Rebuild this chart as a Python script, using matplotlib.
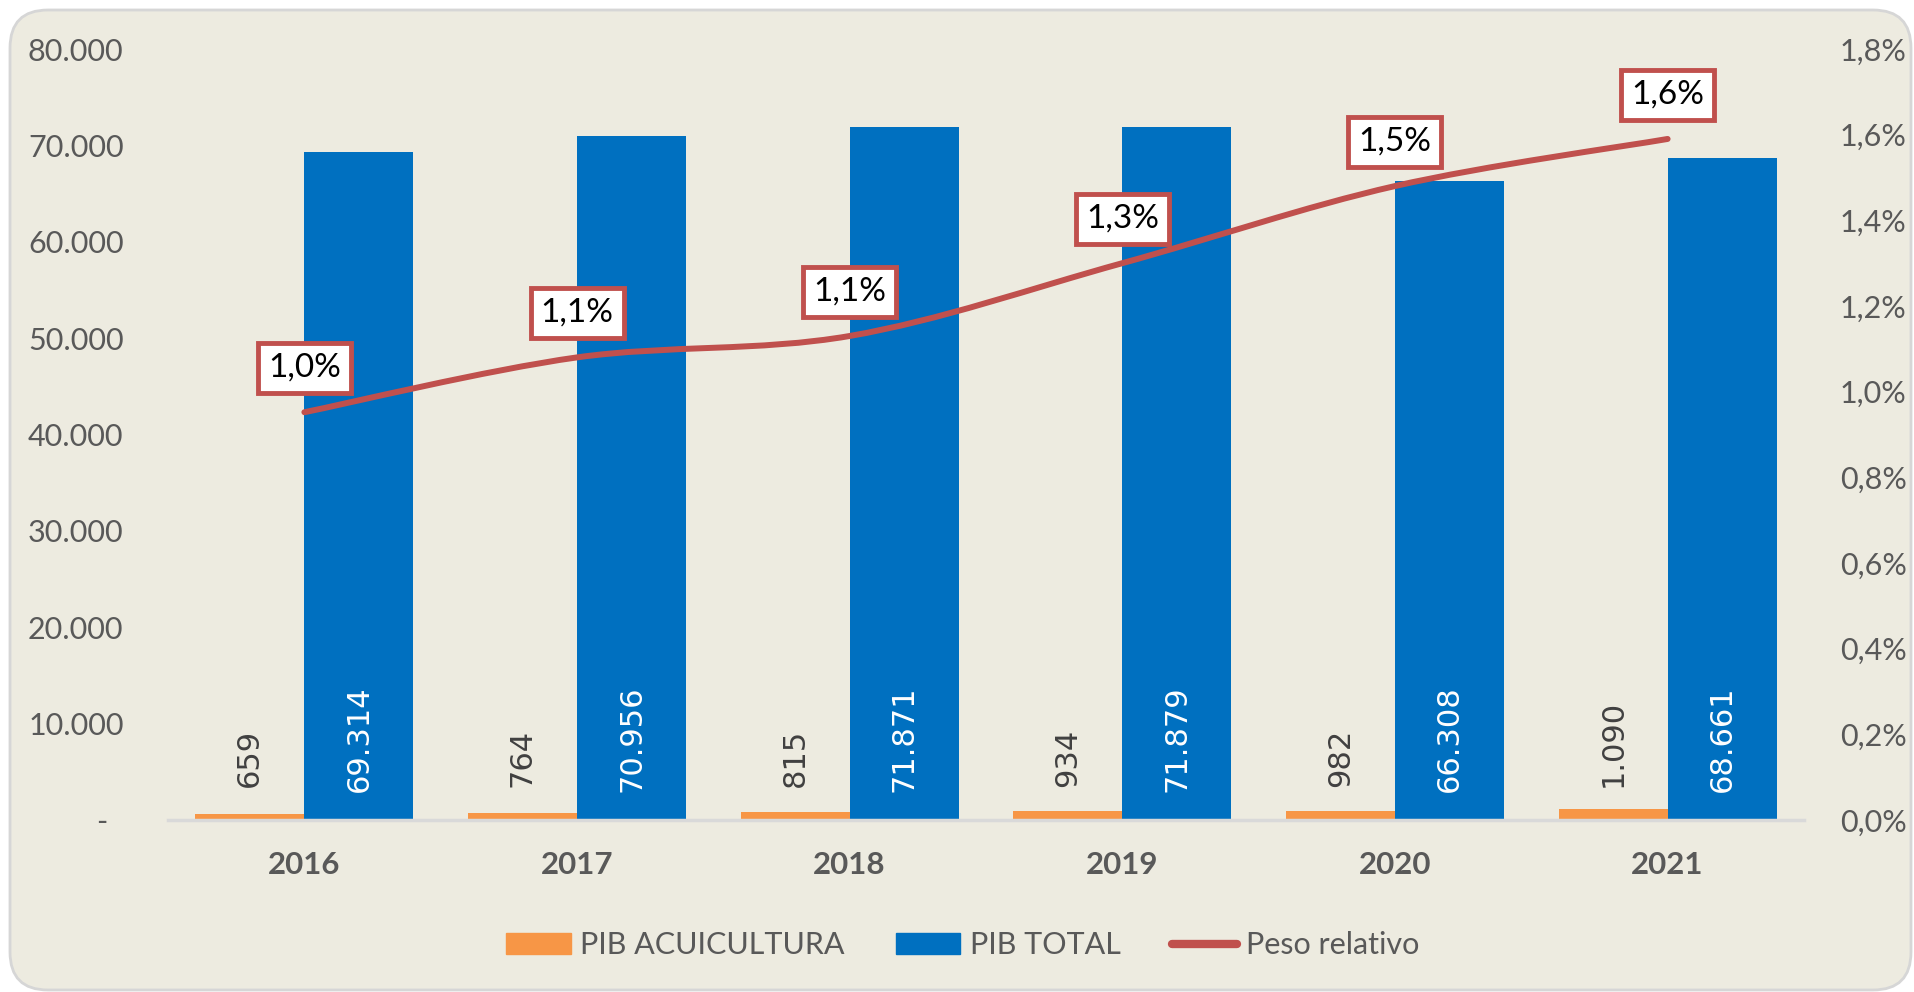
import matplotlib.pyplot as plt
from matplotlib.patches import FancyBboxPatch, Patch, PathPatch
from matplotlib.lines import Line2D
from matplotlib.path import Path

# data
years = ['2016', '2017', '2018', '2019', '2020', '2021']
pib_acuicultura = [659, 764, 815, 934, 982, 1090]
pib_total = [69314, 70956, 71871, 71879, 66308, 68661]
peso_relativo = [0.00952, 0.0108, 0.0113, 0.0130, 0.0148, 0.0159]
left_ticks = [0, 10000, 20000, 30000, 40000, 50000, 60000, 70000, 80000]
right_ticks = [0, 0.002, 0.004, 0.006, 0.008, 0.010, 0.012, 0.014, 0.016, 0.018]

orange = '#F79646'
blue = '#0070C0'
red = '#C0504D'
grey = '#595959'
bg = '#EDEBE0'

plt.rcParams['font.family'] = ['Lato', 'DejaVu Sans']


def miles(v):
    return f"{v:,}".replace(',', '.')


def pct(v):
    return f"{v * 100:.1f}%".replace('.', ',')


def smooth_path(xs, ys):
    # bezier curve through the points, like excel's smoothed line
    pts = list(zip(xs, ys))
    n = len(pts)
    verts, codes = [pts[0]], [Path.MOVETO]
    for i in range(n - 1):
        p0, p1 = pts[max(i - 1, 0)], pts[i]
        p2, p3 = pts[i + 1], pts[min(i + 2, n - 1)]
        c1 = (p1[0] + (p2[0] - p0[0]) / 6, p1[1] + (p2[1] - p0[1]) / 6)
        c2 = (p2[0] - (p3[0] - p1[0]) / 6, p2[1] - (p3[1] - p1[1]) / 6)
        verts += [c1, c2, p2]
        codes += [Path.CURVE4] * 3
    return Path(verts, codes)


fig = plt.figure(figsize=(19.14, 9.92), dpi=100)
fig.patch.set_facecolor('white')
back = FancyBboxPatch((0.10, 0.02), 19.01, 9.80, boxstyle='round,pad=0,rounding_size=0.38',
                      transform=fig.dpi_scale_trans, fc=bg, ec='#D6D6D6', lw=2, zorder=-5)
fig.patches.append(back)

ax = fig.add_axes([0.0878, 0.1734, 0.8547, 0.7772])
ax.set_facecolor('none')
x = list(range(len(years)))
w = 0.4
ax.bar([i - w / 2 for i in x], pib_acuicultura, w, color=orange, zorder=2)
ax.bar([i + w / 2 for i in x], pib_total, w, color=blue, zorder=2)

for i in x:
    ax.annotate(miles(pib_acuicultura[i]), (i - w / 2, 0), xytext=(0, 24), textcoords='offset points',
                rotation=90, ha='center', va='bottom', fontsize=22, family='DejaVu Sans', color='#404040')
    ax.annotate(miles(pib_total[i]), (i + w / 2, 0), xytext=(0, 20), textcoords='offset points',
                rotation=90, ha='center', va='bottom', fontsize=22, family='DejaVu Sans', color='white')

ax.set_xlim(-0.5, 5.5)
ax.set_ylim(0, 80000)
ax.set_xticks(x)
ax.set_xticklabels(years, fontsize=22.5, fontweight='bold', color=grey)
ax.set_yticks(left_ticks)
ax.set_yticklabels(['-  '] + [miles(v) for v in left_ticks[1:]], fontsize=22, color=grey)
ax.tick_params(axis='x', length=0, pad=22)
ax.tick_params(axis='y', length=0, pad=32)
for s in ['top', 'left', 'right']:
    ax.spines[s].set_visible(False)
ax.spines['bottom'].set_color('#D9D9D9')
ax.spines['bottom'].set_linewidth(2.5)

ax2 = ax.twinx()
ax2.set_ylim(0, 0.018)
ax2.set_yticks(right_ticks)
ax2.set_yticklabels([pct(v) for v in right_ticks], fontsize=22, color=grey)
ax2.tick_params(axis='y', length=0, pad=26)
for s in ax2.spines.values():
    s.set_visible(False)

ax2.add_patch(PathPatch(smooth_path(x, peso_relativo), fill=False, ec=red, lw=4.3,
                        capstyle='round', zorder=3))
for i in x:
    ax2.annotate(pct(peso_relativo[i]), (i, peso_relativo[i]),
                 xytext=(0, 32), textcoords='offset points', ha='center', va='center',
                 fontsize=24, color='black', zorder=4,
                 bbox=dict(boxstyle='square,pad=0.3', fc='white', ec=red, lw=3.5))

handles = [Patch(color=orange), Patch(color=blue),
           Line2D([], [], color=red, lw=6, solid_capstyle='round')]
fig.legend(handles, ['PIB ACUICULTURA', 'PIB TOTAL', 'Peso relativo'], loc='center',
           bbox_to_anchor=(0.503, 0.047), ncol=3, frameon=False, fontsize=22,
           handlelength=2.1, handleheight=0.65, handletextpad=0.3, columnspacing=1.7,
           labelcolor=grey)

fig.savefig('out.png', dpi=100, facecolor='white')
